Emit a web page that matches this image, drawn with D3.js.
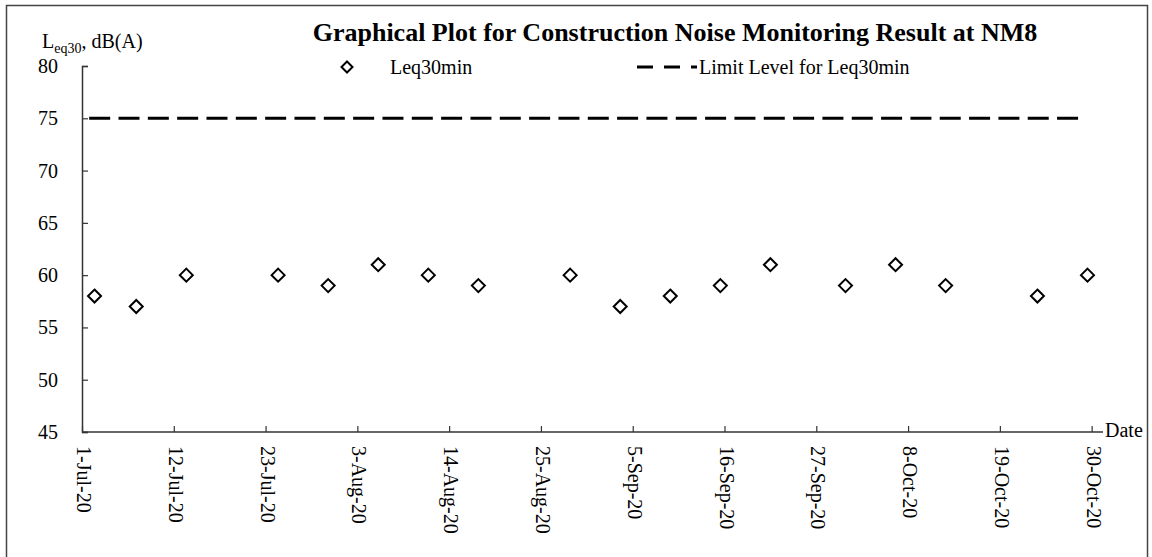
<!DOCTYPE html>
<html>
<head>
<meta charset="utf-8">
<script src="https://cdn.jsdelivr.net/npm/d3@7"></script>
<style>
  html, body { margin: 0; padding: 0; background: #fff; }
  svg { display: block; }
  text { font-family: "Liberation Serif", "Times New Roman", serif; fill: #000; }
</style>
</head>
<body>
<svg id="chart" width="1152" height="557"></svg>
<script>
// Measurement dates and 30-minute equivalent noise levels, dB(A)
const sampleDates = ["2020-07-02","2020-07-07","2020-07-13","2020-07-24","2020-07-30",
  "2020-08-05","2020-08-11","2020-08-17","2020-08-28","2020-09-03","2020-09-09",
  "2020-09-15","2020-09-21","2020-09-30","2020-10-06","2020-10-12","2020-10-23","2020-10-29"];
const leq30 = [58,57,60,60,59,61,60,59,60,57,58,59,61,59,61,59,58,60];

// Limit level line
const limitDates = ["2020-07-01","2020-10-28"];
const limitLevel = 75;

// Axis ticks
const xTickLabels = ["1-Jul-20","12-Jul-20","23-Jul-20","3-Aug-20","14-Aug-20","25-Aug-20",
  "5-Sep-20","16-Sep-20","27-Sep-20","8-Oct-20","19-Oct-20","30-Oct-20"];
const yTicks = [45,50,55,60,65,70,75,80];

const titleText = "Graphical Plot for Construction Noise Monitoring Result at NM8";
const seriesName = "Leq30min";
const limitName = "Limit Level for Leq30min";

const parseISO = d3.utcParse("%Y-%m-%d");
const parseTick = d3.utcParse("%-d-%b-%y");
const dayCentre = d => d3.utcHour.offset(d, 12);

const svg = d3.select("#chart");
const plot = { left: 82, right: 1100, top: 66, bottom: 432 };

// Each day occupies one slot; points sit at the centre of their day
const x = d3.scaleUtc()
  .domain([parseISO("2020-07-01"), parseISO("2020-10-31")])
  .range([plot.left, plot.right]);
const y = d3.scaleLinear()
  .domain([45, 80])
  .range([plot.bottom, plot.top]);

// Outer frame
svg.append("rect")
  .attr("x", 6.5).attr("y", 5.5)
  .attr("width", 1141).attr("height", 560)
  .attr("fill", "none").attr("stroke", "#444").attr("stroke-width", 1.5);

// Title
svg.append("text")
  .attr("x", 675).attr("y", 41)
  .attr("text-anchor", "middle")
  .style("font-weight", "bold").style("font-size", "26px")
  .text(titleText);

// Y axis title with subscript
const yt = svg.append("text")
  .attr("x", 42).attr("y", 48)
  .style("font-size", "20px");
yt.append("tspan").text("L");
yt.append("tspan").attr("dy", 5).style("font-size", "14px").text("eq30");
yt.append("tspan").attr("dy", -5).text(", dB(A)");

// Y axis
const yAxis = svg.append("g")
  .attr("transform", `translate(${plot.left},0)`)
  .call(d3.axisRight(y).tickValues(yTicks).tickSize(6).tickFormat(""));
yAxis.select(".domain").attr("stroke", "#333").attr("stroke-width", 1.5);
yAxis.selectAll(".tick line").attr("stroke", "#333").attr("stroke-width", 1.2);

svg.append("g").selectAll("text")
  .data(yTicks)
  .join("text")
  .attr("x", 58)
  .attr("y", d => y(d))
  .attr("dy", "0.35em")
  .attr("text-anchor", "end")
  .style("font-size", "20px")
  .text(d => d);

// X axis
const xTicks = xTickLabels.map(parseTick);
const xAxis = svg.append("g")
  .attr("transform", `translate(0,${plot.bottom})`)
  .call(d3.axisTop(x).tickValues(xTicks).tickSize(6).tickFormat(""));
xAxis.select(".domain").attr("stroke", "#333").attr("stroke-width", 1.5)
  .attr("d", `M${plot.left},0H${plot.right + 3}`);
xAxis.selectAll(".tick line").attr("stroke", "#333").attr("stroke-width", 1.2);

svg.append("g").selectAll("text")
  .data(xTicks)
  .join("text")
  .attr("transform", d => `translate(${x(d) + 2},${plot.bottom + 14}) rotate(90)`)
  .attr("dy", "0.35em")
  .attr("text-anchor", "start")
  .style("font-size", "20px")
  .text((d, i) => xTickLabels[i]);

svg.append("text")
  .attr("x", plot.right + 5).attr("y", plot.bottom + 5)
  .style("font-size", "20px")
  .text("Date");

// Limit level line
const limitLine = d3.line()
  .x(d => x(dayCentre(parseISO(d))))
  .y(() => y(limitLevel));
svg.append("path")
  .attr("d", limitLine(limitDates))
  .attr("fill", "none")
  .attr("stroke", "#000")
  .attr("stroke-width", 3)
  .attr("stroke-dasharray", "21,8.33")
  .attr("stroke-dashoffset", -3);

// Diamond markers
const diamond = r => `M0,${-r}L${r},0L0,${r}L${-r},0Z`;
svg.append("g").selectAll("path")
  .data(sampleDates.map((d, i) => ({ date: parseISO(d), value: leq30[i] })))
  .join("path")
  .attr("transform", d => `translate(${x(dayCentre(d.date))},${y(d.value)})`)
  .attr("d", diamond(6.5))
  .attr("fill", "#fff")
  .attr("stroke", "#000")
  .attr("stroke-width", 2);

// Legend
const legend = svg.append("g");
legend.append("path")
  .attr("transform", "translate(347,67)")
  .attr("d", diamond(5.5))
  .attr("fill", "#fff").attr("stroke", "#000").attr("stroke-width", 2);
legend.append("text")
  .attr("x", 390).attr("y", 74)
  .style("font-size", "20px")
  .text(seriesName);
legend.append("path")
  .attr("d", "M637,67H697")
  .attr("stroke", "#000").attr("stroke-width", 3)
  .attr("stroke-dasharray", "16,11");
legend.append("text")
  .attr("x", 699).attr("y", 74)
  .style("font-size", "20px")
  .text(limitName);
</script>
</body>
</html>
